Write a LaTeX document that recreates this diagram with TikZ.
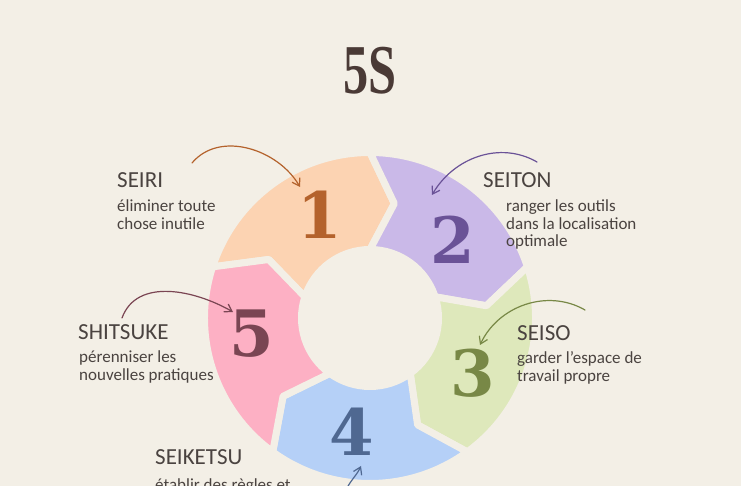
\documentclass[tikz,border=0pt]{standalone}
\usepackage{fontspec}
\setmainfont{Carlito}
\newfontfamily\numfont{DejaVu Serif}
\newfontfamily\titlefont[FakeStretch=0.72]{Liberation Serif}
\usetikzlibrary{arrows.meta}

\definecolor{paper}{HTML}{F3EFE6}
\definecolor{ink}{HTML}{4A4340}
\definecolor{titleink}{HTML}{4A3A36}
\definecolor{peachfill}{HTML}{FCD3B2}
\definecolor{peachink}{HTML}{B4622C}
\definecolor{lilacfill}{HTML}{CAB9E8}
\definecolor{lilacink}{HTML}{6A5297}
\definecolor{sagefill}{HTML}{DEE8BB}
\definecolor{sageink}{HTML}{788846}
\definecolor{skyfill}{HTML}{B5D0F7}
\definecolor{skyink}{HTML}{4F6891}
\definecolor{rosefill}{HTML}{FDB0C4}
\definecolor{roseink}{HTML}{7A4553}

\begin{document}
\begin{tikzpicture}[x=1pt,y=1pt,
step num/.style={inner sep=0pt,font=\numfont\bfseries\fontsize{64}{64}\selectfont},
step title/.style={anchor=base west,inner sep=0pt,text=ink,font=\fontsize{23}{23}\selectfont},
step text/.style={anchor=base west,inner sep=0pt,text=ink,align=left,font=\fontsize{17}{17.5}\selectfont},
hint/.style={-{Straight Barb[length=7pt,width=9pt]},line width=1.2pt,line cap=round}]
\fill[paper] (0,0) rectangle (741,486);
\useasboundingbox (0,0) rectangle (741,486);

\node[inner sep=0pt,text=titleink,font=\titlefont\bfseries\fontsize{70}{70}\selectfont] (title) at (370,415) {5S};

% ring of five arrow pieces
\begin{scope}[shift={(370,168)}]
\foreach \c/\f in {126/peachfill,54/lilacfill,-18/sagefill,-90/skyfill,-162/rosefill}{
  \pgfmathsetmacro\sa{\c+36}
  \pgfmathsetmacro\ea{\c-36}
  \pgfmathsetmacro\tipa{\c-48}
  \pgfmathsetmacro\nota{\c+24}
  \filldraw[fill=\f,draw=paper,line width=7pt,line join=round]
    (\sa:165.5) arc[start angle=\sa,end angle=\ea,radius=165.5] -- (\tipa:117)
    -- (\ea:68.5) arc[start angle=\ea,end angle=\sa,radius=68.5] -- (\nota:117) -- cycle;
}
\end{scope}

\node[step num,text=peachink] (n1) at (320,271.5) {1};
\node[step num,text=lilacink] (n2) at (453,246) {2};
\node[step num,text=sageink] (n3) at (473,112.5) {3};
\node[step num,text=skyink] (n4) at (352,54.5) {4};
\node[step num,text=roseink] (n5) at (252,152) {5};

% texts: base west of the last line
\node[step title] (seiri) at (117,298) {SEIRI};
\node[step text] (seiritxt) at (117,256.5) {éliminer toute\\chose inutile};
\node[step title] (seiton) at (483,298) {SEITON};
\node[step text] (seitontxt) at (506,239) {ranger les outils\\dans la localisation\\optimale};
\node[step title] (seiso) at (517,145) {SEISO};
\node[step text] (seisotxt) at (517,104.5) {garder l'espace de\\travail propre};
\node[step title] (shitsuke) at (78,146) {SHITSUKE};
\node[step text] (shitsuketxt) at (79,105.5) {pérenniser les\\nouvelles pratiques};
\node[step title] (seiketsu) at (155,21) {SEIKETSU};
\node[step text] (seiketsutxt) at (155,-4.5) {établir des règles et};

% hand drawn pointers
\coordinate (p1) at (192,323); \coordinate (q1) at (300,299);
\coordinate (p2) at (537,324); \coordinate (q2) at (432,291);
\coordinate (p3) at (585,176); \coordinate (q3) at (480,141);
\coordinate (p4) at (122,168); \coordinate (q4) at (233,174);
\coordinate (p5) at (346,-4);  \coordinate (q5) at (361,20);
\draw[hint,peachink] (p1) to[out=50,in=120] (q1);
\draw[hint,lilacink] (p2) to[out=150,in=60] (q2);
\draw[hint,sageink] (p3) to[out=150,in=65] (q3);
\draw[hint,roseink] (p4) to[out=70,in=150] (q4);
\draw[hint,skyink] (p5) to[out=65,in=-115] (q5);
\end{tikzpicture}
\end{document}
